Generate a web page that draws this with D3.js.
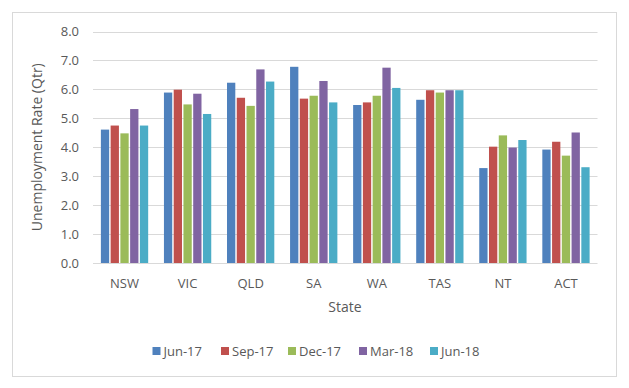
<!DOCTYPE html>
<html>
<head>
<meta charset="utf-8">
<script src="https://cdn.jsdelivr.net/npm/d3@7"></script>
<style>
  body { margin: 0; background: #fff; }
  svg text { font-family: "Open Sans", "Liberation Sans", sans-serif; fill: #595959; }
</style>
</head>
<body>
<svg id="chart" width="629" height="388"></svg>
<script>
"use strict";

var states = ["NSW", "VIC", "QLD", "SA", "WA", "TAS", "NT", "ACT"];
var quarters = ["Jun-17", "Sep-17", "Dec-17", "Mar-18", "Jun-18"];
var jun17 = [4.61, 5.89, 6.23, 6.78, 5.46, 5.64, 3.28, 3.92];
var sep17 = [4.75, 5.99, 5.71, 5.68, 5.55, 5.97, 4.02, 4.19];
var dec17 = [4.48, 5.48, 5.43, 5.78, 5.78, 5.89, 4.41, 3.71];
var mar18 = [5.32, 5.85, 6.69, 6.29, 6.75, 5.97, 3.99, 4.51];
var jun18 = [4.75, 5.15, 6.27, 5.55, 6.05, 5.97, 4.25, 3.31];
var yTicks = [0, 1, 2, 3, 4, 5, 6, 7, 8];
var colors = ["#4f81bd", "#c0504d", "#9bbb59", "#8064a2", "#4bacc6"];

var seriesValues = [jun17, sep17, dec17, mar18, jun18];

var svg = d3.select("#chart");

// outer chart border
svg.append("rect")
  .attr("x", 12.5).attr("y", 12.5)
  .attr("width", 604).attr("height", 364)
  .attr("fill", "#fff")
  .attr("stroke", "#d9d9d9");

var plot = { left: 93, right: 597.5, top: 31.5, bottom: 263 };

var x = d3.scaleBand().domain(states).range([plot.left, plot.right]).paddingInner(0).paddingOuter(0);
var y = d3.scaleLinear().domain([0, 8]).range([plot.bottom, plot.top]);

// gridlines
svg.append("g")
  .selectAll("line")
  .data(yTicks)
  .enter()
  .append("line")
  .attr("x1", plot.left).attr("x2", plot.right)
  .attr("y1", function (d) { return Math.round(y(d)) + 0.5; })
  .attr("y2", function (d) { return Math.round(y(d)) + 0.5; })
  .attr("stroke", "#d9d9d9")
  .attr("stroke-width", 1);

// y tick labels
svg.append("g")
  .selectAll("text")
  .data(yTicks)
  .enter()
  .append("text")
  .attr("x", 79)
  .attr("y", function (d) { return y(d); })
  .attr("dy", "0.35em")
  .attr("text-anchor", "end")
  .attr("font-size", 13)
  .text(function (d) { return d3.format(".1f")(d); });

// bars
var groupWidth = x.bandwidth() * 0.75;
var x1 = d3.scaleBand().domain(d3.range(quarters.length)).range([0, groupWidth]).paddingInner(0.15);

svg.append("g")
  .selectAll("g.series")
  .data(seriesValues)
  .enter()
  .append("g")
  .attr("class", "series")
  .attr("fill", function (d, i) { return colors[i]; })
  .each(function (vals, si) {
    d3.select(this).selectAll("rect")
      .data(vals)
      .enter()
      .append("rect")
      .attr("x", function (d, i) { return x(states[i]) + (x.bandwidth() - groupWidth) / 2 + x1(si); })
      .attr("y", function (d) { return y(d); })
      .attr("width", x1.bandwidth())
      .attr("height", function (d) { return y(0) - y(d); });
  });

// x labels
svg.append("g")
  .selectAll("text")
  .data(states)
  .enter()
  .append("text")
  .attr("x", function (d) { return x(d) + x.bandwidth() / 2; })
  .attr("y", 283)
  .attr("dy", "0.35em")
  .attr("text-anchor", "middle")
  .attr("font-size", 13)
  .text(function (d) { return d; });

// axis titles
svg.append("text")
  .attr("x", 345).attr("y", 307)
  .attr("dy", "0.35em")
  .attr("text-anchor", "middle")
  .attr("font-size", 14)
  .text("State");

svg.append("text")
  .attr("transform", "translate(37," + ((plot.top + plot.bottom) / 2) + ") rotate(-90)")
  .attr("dy", "0.35em")
  .attr("text-anchor", "middle")
  .attr("font-size", 14)
  .text("Unemployment Rate (Qtr)");

// legend
var legendX = [152.5, 221, 288, 359, 430];
var legend = svg.append("g")
  .selectAll("g")
  .data(quarters)
  .enter()
  .append("g")
  .attr("transform", function (d, i) { return "translate(" + legendX[i] + ",351)"; });

legend.append("rect")
  .attr("x", 0).attr("y", -4)
  .attr("width", 8).attr("height", 8)
  .attr("fill", function (d, i) { return colors[i]; });

legend.append("text")
  .attr("x", 11)
  .attr("dy", "0.35em")
  .attr("font-size", 13)
  .text(function (d) { return d; });
</script>
</body>
</html>
